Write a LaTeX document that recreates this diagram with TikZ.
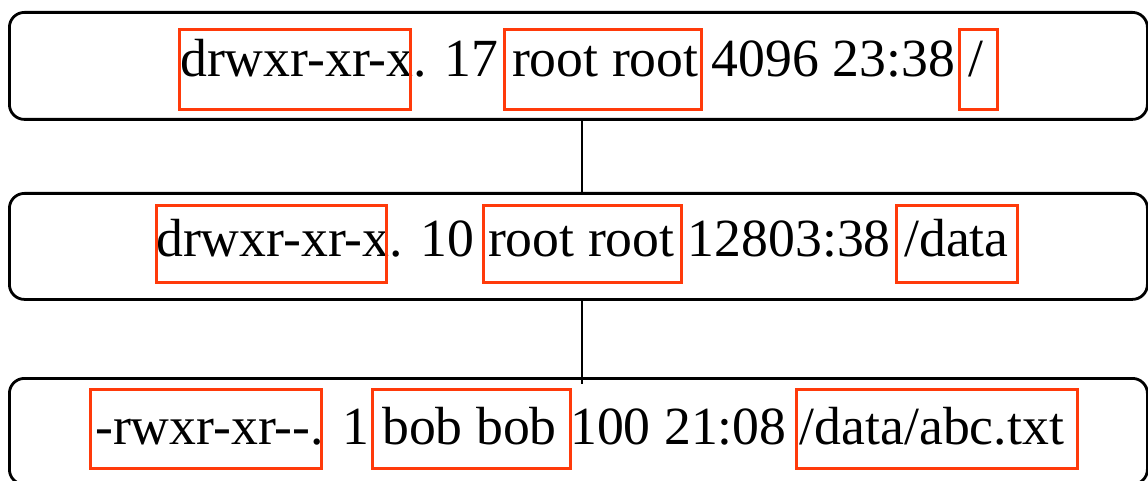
\documentclass[tikz,border=0pt]{standalone}
\usepackage{fontspec}
\setmainfont{Liberation Serif}
\definecolor{hlred}{RGB}{255,58,10}
\begin{document}
\begin{tikzpicture}[x=1pt,y=-1pt,
  panel/.style={draw, line width=2.8pt, rounded corners=15pt, inner sep=0pt, anchor=north west, minimum width=1138pt},
  hl/.style={draw=hlred, line width=2.6pt, inner sep=0pt, anchor=north west},
  txt/.style={inner sep=0pt, anchor=base west, font=\fontsize{53.7}{60}\selectfont},
  link/.style={line width=2.4pt}]
\useasboundingbox (0,0) rectangle (1148,481);
% panels
\node[panel, minimum height=107pt] (p1) at (8,11) {};
\node[panel, minimum height=106pt] (p2) at (8,192) {};
\node[panel, minimum height=106pt] (p3) at (8,377) {};
% connectors
\coordinate (cx) at (582,0);
\coordinate (end3) at (582,384);
\draw[link] (p1.south -| cx) -- (p2.north -| cx);
\draw[link] (p2.south -| cx) -- (end3);
% texts
\node[txt] (t1) at (180,77) {drwxr-xr-x. 17 root root 4096 23:38 /};
\node[txt] (t2) at (156,256) {drwxr-xr-x. 10 root root 12803:38 /data};
\node[txt] (t3) at (95,444) {-rwxr-xr{-}{-}. 1 bob bob 100 21:08 /data/abc.txt};
% highlight boxes
\node[hl, minimum width=231pt, minimum height=80pt] (h11) at (178,28) {};
\node[hl, minimum width=197pt, minimum height=80pt] (h12) at (503,28) {};
\node[hl, minimum width=38pt, minimum height=80pt] (h13) at (958,28) {};
\node[hl, minimum width=230pt, minimum height=77pt] (h21) at (155,204) {};
\node[hl, minimum width=198pt, minimum height=77pt] (h22) at (482,204) {};
\node[hl, minimum width=121pt, minimum height=77pt] (h23) at (895,204) {};
\node[hl, minimum width=231pt, minimum height=79pt] (h31) at (89,388) {};
\node[hl, minimum width=198pt, minimum height=79pt] (h32) at (371,388) {};
\node[hl, minimum width=281pt, minimum height=79pt] (h33) at (795,388) {};
\end{tikzpicture}
\end{document}
